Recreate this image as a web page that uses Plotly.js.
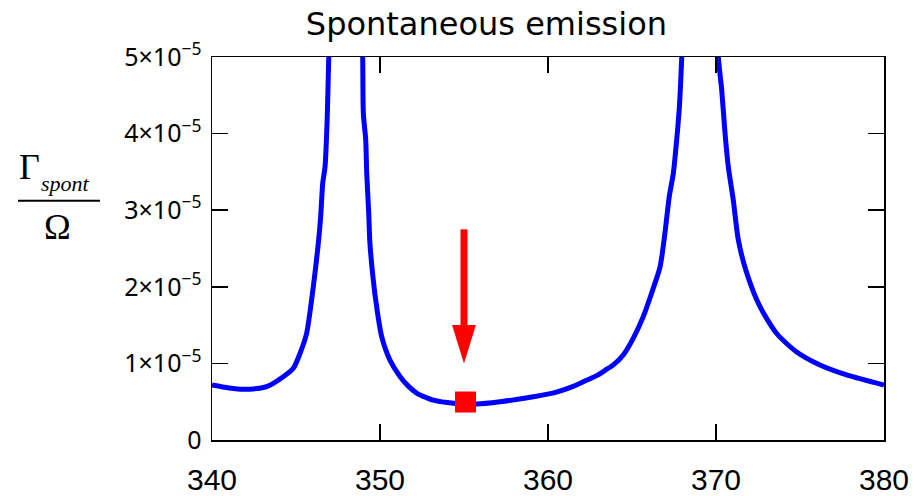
<!DOCTYPE html>
<html>
<head>
<meta charset="utf-8">
<script src="https://cdn.plot.ly/plotly-3.0.1.min.js"></script>
<style>html,body{margin:0;padding:0;background:#fff;}#chart{width:923px;height:496px;}</style>
</head>
<body>
<div id="chart"></div>
<script>
// Frequency axis values and spontaneous emission rate (units of 1e-5)
const xVals = [340.0, 341.0, 341.86, 343.25, 344.24, 344.84, 345.24, 345.63, 345.93, 346.13, 346.33, 346.47, 346.59, 346.73, 346.86, 346.95, 347.1, 347.95, 348.85, 348.97, 349.01, 349.15, 349.21, 349.33, 349.40, 349.60, 349.80, 350.10, 350.60, 351.19, 351.7, 352.2, 352.8, 353.17, 354.37, 355.75, 357.14, 359.13, 360.5, 361.5, 362.3, 362.9, 363.4, 363.89, 364.48, 365.08, 365.67, 366.17, 366.67, 366.96, 367.22, 367.46, 367.66, 367.82, 367.96, 368.1, 369.05, 370.0, 370.14, 370.34, 370.54, 370.73, 371.03, 371.33, 371.83, 372.62, 373.61, 374.80, 376.19, 377.78, 380.0];
const yVals = [0.718, 0.68, 0.662, 0.696, 0.826, 0.936, 1.13, 1.39, 1.83, 2.18, 2.57, 2.92, 3.35, 3.57, 4.22, 5.0, 6.0, 9.0, 6.0, 5.0, 4.26, 3.92, 3.48, 2.96, 2.57, 2.09, 1.74, 1.35, 1.04, 0.83, 0.70, 0.61, 0.55, 0.52, 0.48, 0.47, 0.50, 0.565, 0.625, 0.70, 0.78, 0.84, 0.91, 0.98, 1.11, 1.33, 1.61, 1.92, 2.26, 2.70, 3.18, 3.48, 3.92, 4.35, 5.0, 6.0, 9.0, 6.0, 5.0, 4.57, 4.0, 3.57, 3.13, 2.61, 2.18, 1.74, 1.39, 1.15, 0.98, 0.85, 0.718];

// highlighted point
const markX = [355.09];
const markY = [0.496];

// arrow pointing at the highlighted point
const arrowX = 355.0;
const arrowFrom = 2.75;
const arrowTo = 1.0;

const xTickVals = [340, 350, 360, 370, 380];
const xTickText = ['340', '350', '360', '370', '380'];
const yTickVals = [0, 1, 2, 3, 4, 5];
const yTickText = ['0', '1×10<sup>−5</sup>', '2×10<sup>−5</sup>', '3×10<sup>−5</sup>', '4×10<sup>−5</sup>', '5×10<sup>−5</sup>'];

// style constants
const headHalfW = 0.71; // x units
const headLen = 0.5;    // y units

const serif = '"Liberation Serif", "DejaVu Serif", serif';

const traces = [
  {x: xVals, y: yVals, type: 'scatter', mode: 'lines', line: {color: '#0000ff', width: 5, shape: 'spline', smoothing: 0.7}, hoverinfo: 'skip'},
  {x: markX, y: markY, type: 'scatter', mode: 'markers', marker: {symbol: 'square', size: 21, color: '#ff0000'}, hoverinfo: 'skip'}
];

const layout = {
  width: 923, height: 496,
  margin: {l: 212, r: 39, t: 57, b: 56},
  paper_bgcolor: '#fff', plot_bgcolor: '#fff',
  showlegend: false,
  title: {text: 'Spontaneous emission', font: {family: '"DejaVu Sans", sans-serif', size: 32, color: '#000'},
          x: 0.527, xref: 'container', xanchor: 'center', y: 0.953, yref: 'container', yanchor: 'middle'},
  xaxis: {
    range: [340, 380], tickvals: xTickVals, ticktext: xTickText,
    showgrid: false, zeroline: false, showline: true, mirror: 'ticks', linecolor: '#000', linewidth: 1.5,
    ticks: 'inside', ticklen: 16, tickwidth: 1.5, tickcolor: '#000',
    tickfont: {family: '"Liberation Sans", Arial, sans-serif', size: 30, color: '#000'}, ticklabelstandoff: 12
  },
  yaxis: {
    range: [0, 5], tickvals: yTickVals, ticktext: yTickText,
    showgrid: false, zeroline: false, showline: true, mirror: 'ticks', linecolor: '#000', linewidth: 1.5,
    ticks: 'inside', ticklen: 16, tickwidth: 1.5, tickcolor: '#000',
    tickfont: {family: '"Noto Sans", "Open Sans", sans-serif', size: 25, color: '#000'}, ticklabelstandoff: 4
  },
  shapes: [
    {type: 'line', xref: 'x', yref: 'y', x0: arrowX, x1: arrowX, y0: arrowFrom, y1: arrowTo + headLen * 0.95,
     line: {color: '#ff0000', width: 7}},
    {type: 'path', xref: 'x', yref: 'y',
     path: 'M' + (arrowX - headHalfW) + ',' + (arrowTo + headLen) + ' L' + (arrowX + headHalfW) + ',' + (arrowTo + headLen) + ' L' + arrowX + ',' + arrowTo + ' Z',
     fillcolor: '#ff0000', line: {width: 0}},
    {type: 'line', xref: 'paper', yref: 'paper', x0: -0.2887, x1: -0.1667, y0: 0.6248, y1: 0.6248,
     line: {color: '#000', width: 2}}
  ],
  annotations: [
    {text: 'Γ', xref: 'paper', yref: 'paper', x: -0.2723, y: 0.7128, xanchor: 'center', yanchor: 'middle', showarrow: false,
     font: {family: serif, size: 36, color: '#000'}},
    {text: '<i>spont</i>', xref: 'paper', yref: 'paper', x: -0.2173, y: 0.671, xanchor: 'center', yanchor: 'middle', showarrow: false,
     font: {family: serif, size: 22, color: '#000'}},
    {text: 'Ω', xref: 'paper', yref: 'paper', x: -0.2292, y: 0.556, xanchor: 'center', yanchor: 'middle', showarrow: false,
     font: {family: serif, size: 36, color: '#000'}}
  ]
};

Plotly.newPlot('chart', traces, layout, {staticPlot: true, displayModeBar: false});
</script>
</body>
</html>
